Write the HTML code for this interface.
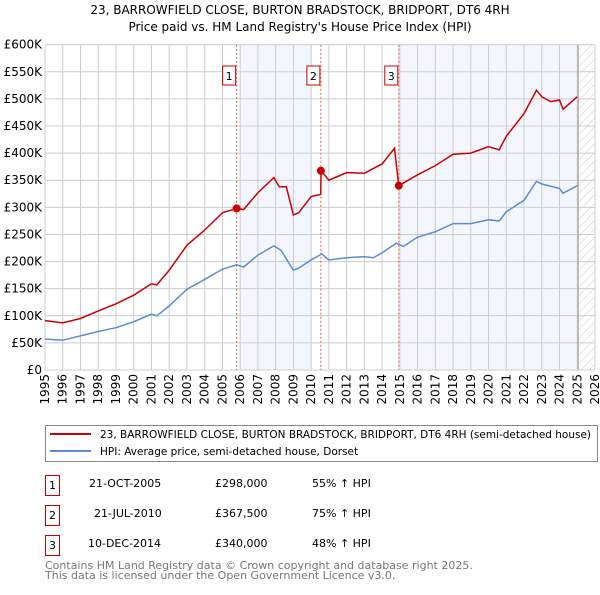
<!DOCTYPE html>
<html><head><meta charset="utf-8"><style>
body{margin:0;background:#fff;font-family:"Liberation Sans","DejaVu Sans",sans-serif;}
svg text{font-family:"DejaVu Sans","Liberation Sans",sans-serif;}
</style></head><body>
<svg id="chart" width="600" height="590" viewBox="0 0 600 590" xmlns="http://www.w3.org/2000/svg">
<defs><pattern id="hatch" width="6" height="6" patternUnits="userSpaceOnUse" patternTransform="rotate(45)"><line x1="0" y1="0" x2="0" y2="6" stroke="#ccc" stroke-width="1"/></pattern></defs>
<text x="300" y="14" text-anchor="middle" font-size="12">23, BARROWFIELD CLOSE, BURTON BRADSTOCK, BRIDPORT, DT6 4RH</text>
<text x="300" y="31" text-anchor="middle" font-size="12">Price paid vs. HM Land Registry's House Price Index (HPI)</text>
<g id="plot"></g>
<rect x="45.5" y="425.5" width="552" height="36" fill="#fff" stroke="#888"/>
<line x1="50" y1="434" x2="91" y2="434" stroke="#cc0000" stroke-width="2"/>
<text x="100" y="438" font-size="10.5" textLength="491" lengthAdjust="spacingAndGlyphs">23, BARROWFIELD CLOSE, BURTON BRADSTOCK, BRIDPORT, DT6 4RH (semi-detached house)</text>
<line x1="50" y1="451" x2="91" y2="451" stroke="#5b8dd6" stroke-width="2"/>
<text x="100" y="455" font-size="10.5">HPI: Average price, semi-detached house, Dorset</text>
<g font-size="11">
<rect x="45.5" y="475.5" width="14" height="20" fill="#fff" stroke="#cc0000"/><text x="52.5" y="489" text-anchor="middle">1</text>
<text x="89" y="487">21-OCT-2005</text><text x="215" y="487">£298,000</text><text x="312" y="487">55% ↑ HPI</text>
<rect x="45.5" y="505.5" width="14" height="20" fill="#fff" stroke="#cc0000"/><text x="52.5" y="519" text-anchor="middle">2</text>
<text x="94" y="517">21-JUL-2010</text><text x="215" y="517">£367,500</text><text x="312" y="517">75% ↑ HPI</text>
<rect x="45.5" y="535.5" width="14" height="20" fill="#fff" stroke="#cc0000"/><text x="52.5" y="549" text-anchor="middle">3</text>
<text x="88" y="547">10-DEC-2014</text><text x="215" y="547">£340,000</text><text x="312" y="547">48% ↑ HPI</text>
</g>
<text x="45" y="569" font-size="11" fill="#777">Contains HM Land Registry data © Crown copyright and database right 2025.</text>
<text x="45" y="579" font-size="11" fill="#777">This data is licensed under the Open Government Licence v3.0.</text>
</svg>
<script>
const yTicks=[0,50,100,150,200,250,300,350,400,450,500,550,600];
const yTickLabels=["£0","£50K","£100K","£150K","£200K","£250K","£300K","£350K","£400K","£450K","£500K","£550K","£600K"];
const xYears=[1995,1996,1997,1998,1999,2000,2001,2002,2003,2004,2005,2006,2007,2008,2009,2010,2011,2012,2013,2014,2015,2016,2017,2018,2019,2020,2021,2022,2023,2024,2025,2026];
const hpiT=[1995,1996,1997,1998,1999,2000,2001,2001.3,2002,2003,2004,2005,2005.8,2006.2,2007,2007.9,2008.3,2009,2009.3,2010,2010.6,2011,2012,2013,2013.5,2014,2014.8,2015.2,2016,2017,2018,2019,2020,2020.6,2021,2022,2022.7,2023,2024,2024.2,2025];
const hpiV=[57,55,63,71,78,89,103,100,118,149,167,186,194,190,212,229,221,184,188,203,214,203,207,209,207,216,234,228,245,255,270,270,277,275,292,313,348,343,335,326,340];
const redT=[1995,1996,1997,1998,1999,2000,2001,2001.3,2002,2003,2004,2005,2005.8,2006.2,2007,2007.9,2008.2,2008.6,2009,2009.3,2010,2010.54,2010.56,2011,2012,2013,2014,2014.7,2014.94,2016,2017,2018,2019,2020,2020.6,2021,2022,2022.7,2023,2023.5,2024,2024.2,2025];
const redV=[91,87,95,109,122,138,159,157,184,230,258,290,298,296,327,355,338,338,286,290,320,324,367.5,350,364,363,380,409,340,360,377,398,400,412,406,431,473,516,504,495,498,481,504];
const saleT=[2005.8,2010.55,2014.94];
const saleV=[298,367.5,340];
const saleLabels=["1","2","3"];
const NS="http://www.w3.org/2000/svg";
const L=45,R=595,T=44.7,B=370;
const X=t=>L+(t-1995)*(R-L)/31;
const Y=v=>B-v*(B-T)/600;
const g=document.getElementById('plot');
function mk(tag,attrs,parent){const e=document.createElementNS(NS,tag);for(const k in attrs)e.setAttribute(k,attrs[k]);(parent||g).appendChild(e);return e;}
let e;
e=mk('rect',{x:X(2006),y:T,width:X(2010)-X(2006),height:B-T,fill:'#eef3fc',opacity:0.7});


e=mk('rect',{x:X(saleT[2]),y:T,width:X(2025.05)-X(saleT[2]),height:B-T,fill:'#eef3fc',opacity:0.7});


e=mk('rect',{x:X(2025.05),y:T,width:R-X(2025.05),height:B-T,fill:'url(#hatch)'});


yTicks.forEach((v,i)=>{
 e=mk('line',{x1:L,x2:R,y1:Y(v),y2:Y(v),stroke:'#ccc'});
 
 
 e=mk('text',{x:L-3,y:Y(v)+4,'text-anchor':'end','font-size':12});
 e.textContent=yTickLabels[i];
 
 
});
xYears.forEach(yr=>{
 e=mk('line',{x1:X(yr),x2:X(yr),y1:T,y2:B,stroke:'#ccc'});
 
 
 e=mk('text',{x:X(yr)+4,y:B+4,'text-anchor':'end','font-size':12,transform:`rotate(-90 ${X(yr)+4} ${B+4})`});
 e.textContent=yr;
 
 
});
e=mk('line',{x1:X(2025.05),x2:X(2025.05),y1:T,y2:B,stroke:'#999'});


saleT.forEach((t,i)=>{
 e=mk('line',{x1:X(t),x2:X(t),y1:T,y2:B,stroke:'#e06060','stroke-dasharray':'2,2'});
 
 
 e=mk('rect',{x:X(t)-14,y:66,width:13,height:19,fill:'#fff',stroke:'#cc0000'});
 
 
 e=mk('text',{x:X(t)-7.5,y:80,'text-anchor':'middle','font-size':11});
 e.textContent=saleLabels[i];
 
 
});
e=mk('polyline',{points:hpiT.map((t,i)=>X(t)+','+Y(hpiV[i])).join(' '),fill:'none',stroke:'#5b8dd6','stroke-width':1.5});


e=mk('polyline',{points:redT.map((t,i)=>X(t)+','+Y(redV[i])).join(' '),fill:'none',stroke:'#cc0000','stroke-width':1.5});


saleT.forEach((t,i)=>{
 e=mk('circle',{cx:X(t),cy:Y(saleV[i]),r:4,fill:'#cc0000'});
 
 
});
</script>
</body></html>
